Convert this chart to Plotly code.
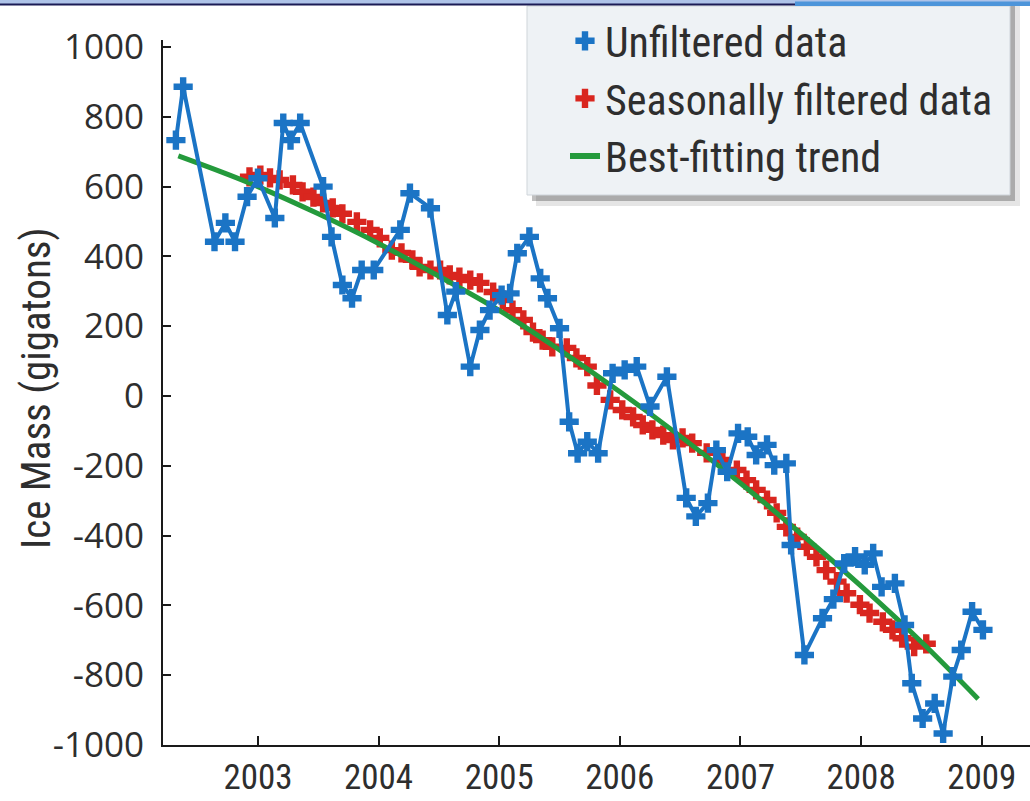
import plotly.graph_objects as go

# ---------------- data ----------------
blue_years = [2002.32, 2002.38, 2002.64, 2002.73, 2002.81, 2002.91, 2003.00, 2003.14, 2003.21, 2003.27,
              2003.35, 2003.54, 2003.61, 2003.70, 2003.78, 2003.86, 2003.96, 2004.18, 2004.26, 2004.43,
              2004.57, 2004.64, 2004.76, 2004.84, 2004.92, 2005.02, 2005.09, 2005.15, 2005.25, 2005.34,
              2005.40, 2005.50, 2005.58, 2005.65, 2005.73, 2005.82, 2005.94, 2006.04, 2006.14, 2006.25,
              2006.39, 2006.55, 2006.63, 2006.73, 2006.80, 2006.89, 2006.98, 2007.06, 2007.13, 2007.22,
              2007.28, 2007.38, 2007.42, 2007.53, 2007.68, 2007.77, 2007.86, 2007.95, 2008.03, 2008.10,
              2008.17, 2008.28, 2008.36, 2008.42, 2008.51, 2008.61, 2008.68, 2008.76, 2008.83, 2008.92,
              2009.01]
blue_vals = [733, 886, 442, 496, 442, 571, 624, 510, 782, 733,
             782, 600, 456, 318, 280, 361, 361, 476, 581, 538,
             232, 299, 84, 189, 246, 289, 294, 409, 456, 337,
             280, 194, -74, -164, -131, -164, 65, 75, 84, -30,
             55, -292, -345, -307, -155, -217, -107, -117, -169, -140,
             -198, -193, -427, -742, -637, -582, -480, -460, -484, -451,
             -547, -537, -656, -823, -924, -881, -967, -804, -728, -618,
             -670]

red_years = [2002.93, 2003.02, 2003.10, 2003.18, 2003.29, 2003.37, 2003.46, 2003.54, 2003.62, 2003.70,
             2003.82, 2003.93, 2004.01, 2004.11, 2004.19, 2004.28, 2004.34, 2004.43, 2004.51, 2004.59,
             2004.67, 2004.76, 2004.84, 2004.95, 2005.03, 2005.11, 2005.20, 2005.28, 2005.36, 2005.44,
             2005.56, 2005.64, 2005.73, 2005.81, 2005.92, 2006.02, 2006.11, 2006.19, 2006.27, 2006.36,
             2006.44, 2006.52, 2006.60, 2006.72, 2006.85, 2006.97, 2007.05, 2007.13, 2007.22, 2007.30,
             2007.38, 2007.47, 2007.55, 2007.63, 2007.71, 2007.80, 2007.88, 2007.99, 2008.07, 2008.18,
             2008.26, 2008.34, 2008.44, 2008.54]
red_vals = [628, 633, 625, 619, 605, 585, 570, 553, 539, 522,
            499, 476, 453, 418, 410, 390, 370, 361, 361, 347,
            341, 332, 324, 298, 275, 246, 218, 183, 160, 141,
            138, 109, 84, 30, -11, -40, -60, -83, -97, -112,
            -126, -120, -135, -163, -183, -212, -241, -269, -298, -335,
            -375, -404, -432, -461, -499, -532, -565, -598, -622, -647,
            -670, -694, -718, -710]

trend_years = [2002.34, 2002.75, 2003.0, 2003.5, 2004.0, 2004.5, 2005.0, 2005.5,
               2006.0, 2006.5, 2007.0, 2007.5, 2008.0, 2008.5, 2008.97]
trend_vals = [688, 635, 600, 522, 437, 343, 245, 132, 12, -115, -250, -394, -545, -705, -868]

x_ticks = [2003, 2004, 2005, 2006, 2007, 2008, 2009]
x_labels = ["2003", "2004", "2005", "2006", "2007", "2008", "2009"]
y_ticks = [1000, 800, 600, 400, 200, 0, -200, -400, -600, -800, -1000]
y_labels = ["1000", "800", "600", "400", "200", "0", "-200", "-400", "-600", "-800", "-1000"]

series_names = ["Unfiltered data", "Seasonally filtered data", "Best-fitting trend"]
y_title = "Ice Mass (gigatons)"

# ---------------- style ----------------
BLUE = "#1b74c5"
RED = "#d9261f"
GREEN = "#249a3c"
TXT = "#2e2e2e"
AX = "#1a1a1a"
COND = "Liberation Sans Narrow, Roboto Condensed, DejaVu Sans Condensed, Lato, sans-serif"

W, H = 1030, 801
L, R, T, B = 163, 0, 40, 56
PW, PH = W - L - R, H - T - B


def px(x):
    return (x - L) / PW


def py(y):
    return (H - B - y) / PH


fig = go.Figure()

# draw order: red, green, blue
fig.add_trace(go.Scatter(x=red_years, y=red_vals, mode="markers",
                         marker=dict(symbol="cross", size=16, color=RED),
                         showlegend=False, cliponaxis=False, hoverinfo="skip"))
fig.add_trace(go.Scatter(x=trend_years, y=trend_vals, mode="lines",
                         line=dict(color=GREEN, width=5, shape="spline"),
                         showlegend=False, hoverinfo="skip"))
fig.add_trace(go.Scatter(x=blue_years, y=blue_vals, mode="lines+markers",
                         line=dict(color=BLUE, width=4),
                         marker=dict(symbol="cross", size=16, color=BLUE),
                         showlegend=False, cliponaxis=False, hoverinfo="skip"))

# legend entries
fig.add_trace(go.Scatter(x=[None], y=[None], mode="markers", name=series_names[0],
                         marker=dict(symbol="cross", size=16, color=BLUE),
                         legendgroup="a", legendrank=1))
fig.add_trace(go.Scatter(x=[None], y=[None], mode="markers", name=series_names[1],
                         marker=dict(symbol="cross", size=16, color=RED),
                         legendgroup="b", legendrank=2))
fig.add_trace(go.Scatter(x=[None], y=[None], mode="lines", name=series_names[2],
                         line=dict(color=GREEN, width=6),
                         legendgroup="c", legendrank=3))

shapes = [
    # top band (screenshot chrome)
    dict(type="rect", xref="paper", yref="paper", x0=px(0), x1=px(W), y0=py(0), y1=py(4),
         fillcolor="#aec3e8", line=dict(width=0), layer="above"),
    dict(type="rect", xref="paper", yref="paper", x0=px(0), x1=px(795), y0=py(3.5), y1=py(5.5),
         fillcolor="#1b1b55", line=dict(width=0), layer="above"),
    dict(type="rect", xref="paper", yref="paper", x0=px(795), x1=px(W), y0=py(1.5), y1=py(6),
         fillcolor="#4d95da", line=dict(width=0), layer="above"),
    # legend shadow
    dict(type="rect", xref="paper", yref="paper", x0=px(536), x1=px(1020), y0=py(6), y1=py(206),
         fillcolor="rgba(0,0,0,0.10)", line=dict(width=0), layer="below"),
    dict(type="rect", xref="paper", yref="paper", x0=px(532), x1=px(1015), y0=py(6), y1=py(201),
         fillcolor="rgba(0,0,0,0.25)", line=dict(width=0), layer="below"),
    # legend box
    dict(type="rect", xref="paper", yref="paper", x0=px(527), x1=px(1010), y0=py(6), y1=py(195),
         fillcolor="#eef2f5", line=dict(color="#cfd5da", width=1), layer="below"),
]

fig.update_layout(
    width=W, height=H,
    margin=dict(l=L, r=R, t=T, b=B, pad=0, autoexpand=False),
    paper_bgcolor="white", plot_bgcolor="white",
    showlegend=True,
    legend=dict(x=px(565), y=py(7), xanchor="left", yanchor="top",
                bgcolor="rgba(0,0,0,0)", borderwidth=0,
                font=dict(family=COND, size=42, color=TXT),
                traceorder="grouped", tracegroupgap=0, itemsizing="trace"),
    shapes=shapes,
    annotations=[dict(text=y_title, xref="paper", yref="paper", x=px(36), y=py(388),
                      xanchor="center", yanchor="middle", textangle=-90, showarrow=False,
                      font=dict(family=COND, size=41, color=TXT))],
    xaxis=dict(range=[2002.213, 2009.40], tickmode="array", tickvals=x_ticks, ticktext=x_labels,
               ticks="inside", ticklen=9, tickwidth=2, tickcolor=AX, automargin=False,
               showline=True, linecolor=AX, linewidth=2, showgrid=False, zeroline=False,
               tickfont=dict(family=COND, size=35, color=TXT), ticklabelstandoff=0),
    yaxis=dict(range=[-1000, 1020], tickmode="array", tickvals=y_ticks, ticktext=y_labels,
               ticks="inside", ticklen=8, tickwidth=2, tickcolor=AX, automargin=False,
               showline=True, linecolor=AX, linewidth=2, showgrid=False, zeroline=False,
               tickfont=dict(family="Open Sans, sans-serif", size=35, color=TXT), ticklabelstandoff=10),
)

fig.write_html("out.html", config={"displayModeBar": False},
               post_script="document.body.style.margin='0';document.body.style.overflow='hidden';")
